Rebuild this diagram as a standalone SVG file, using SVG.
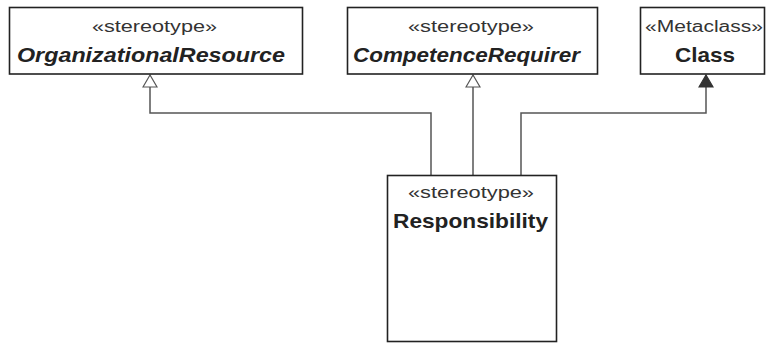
<svg xmlns="http://www.w3.org/2000/svg" width="767" height="346" viewBox="0 0 767 346">
<defs>
<style>
.box{fill:#fff;stroke:#222;stroke-width:1.6}
.st{font-family:"Liberation Sans",Arial,sans-serif;font-size:16px;fill:#333}
.nm{font-family:"Liberation Sans",Arial,sans-serif;font-size:20.5px;font-weight:bold;fill:#222}
.it{font-style:italic}
.ln{fill:none;stroke:#555;stroke-width:1.5}
</style>
<marker id="hollow" viewBox="0 0 14 16" refX="13" refY="8" markerWidth="14" markerHeight="16" markerUnits="userSpaceOnUse" orient="auto">
<path d="M1,1 L13,8 L1,15 Z" fill="#fff" stroke="#555" stroke-width="1.2"/>
</marker>
<marker id="filled" viewBox="0 0 14 16" refX="13" refY="8" markerWidth="14" markerHeight="16" markerUnits="userSpaceOnUse" orient="auto">
<path d="M1,1 L13,8 L1,15 Z" fill="#333" stroke="#333" stroke-width="1.2"/>
</marker>
</defs>
<rect width="767" height="346" fill="#fff"/>
<g id="connectors">
<path class="ln" d="M431,175 V113 H150 V75" marker-end="url(#hollow)"/>
<path class="ln" d="M473,175 V75" marker-end="url(#hollow)"/>
<path class="ln" d="M521,175 V113 H706 V75" marker-end="url(#filled)"/>
</g>
<g id="OrganizationalResource">
<rect class="box" x="9.5" y="7.5" width="293" height="66.5"/>
<text class="st" x="92" y="31.5" textLength="125" lengthAdjust="spacingAndGlyphs">«stereotype»</text>
<text class="nm it" x="17" y="61.5" textLength="268" lengthAdjust="spacingAndGlyphs">OrganizationalResource</text>
</g>
<g id="CompetenceRequirer">
<rect class="box" x="347.5" y="7.5" width="250" height="66.5"/>
<text class="st" x="408" y="31.5" textLength="126" lengthAdjust="spacingAndGlyphs">«stereotype»</text>
<text class="nm it" x="353" y="61.5" textLength="227" lengthAdjust="spacingAndGlyphs">CompetenceRequirer</text>
</g>
<g id="Class">
<rect class="box" x="640.5" y="7.5" width="124" height="66.5"/>
<text class="st" x="645" y="31.5" textLength="118" lengthAdjust="spacingAndGlyphs">«Metaclass»</text>
<text class="nm" x="675" y="61.5" textLength="60" lengthAdjust="spacingAndGlyphs">Class</text>
</g>
<g id="Responsibility">
<rect class="box" x="387.5" y="175.5" width="169" height="166"/>
<text class="st" x="408" y="197.5" textLength="126" lengthAdjust="spacingAndGlyphs">«stereotype»</text>
<text class="nm" x="393" y="228" textLength="155" lengthAdjust="spacingAndGlyphs">Responsibility</text>
</g>
</svg>
